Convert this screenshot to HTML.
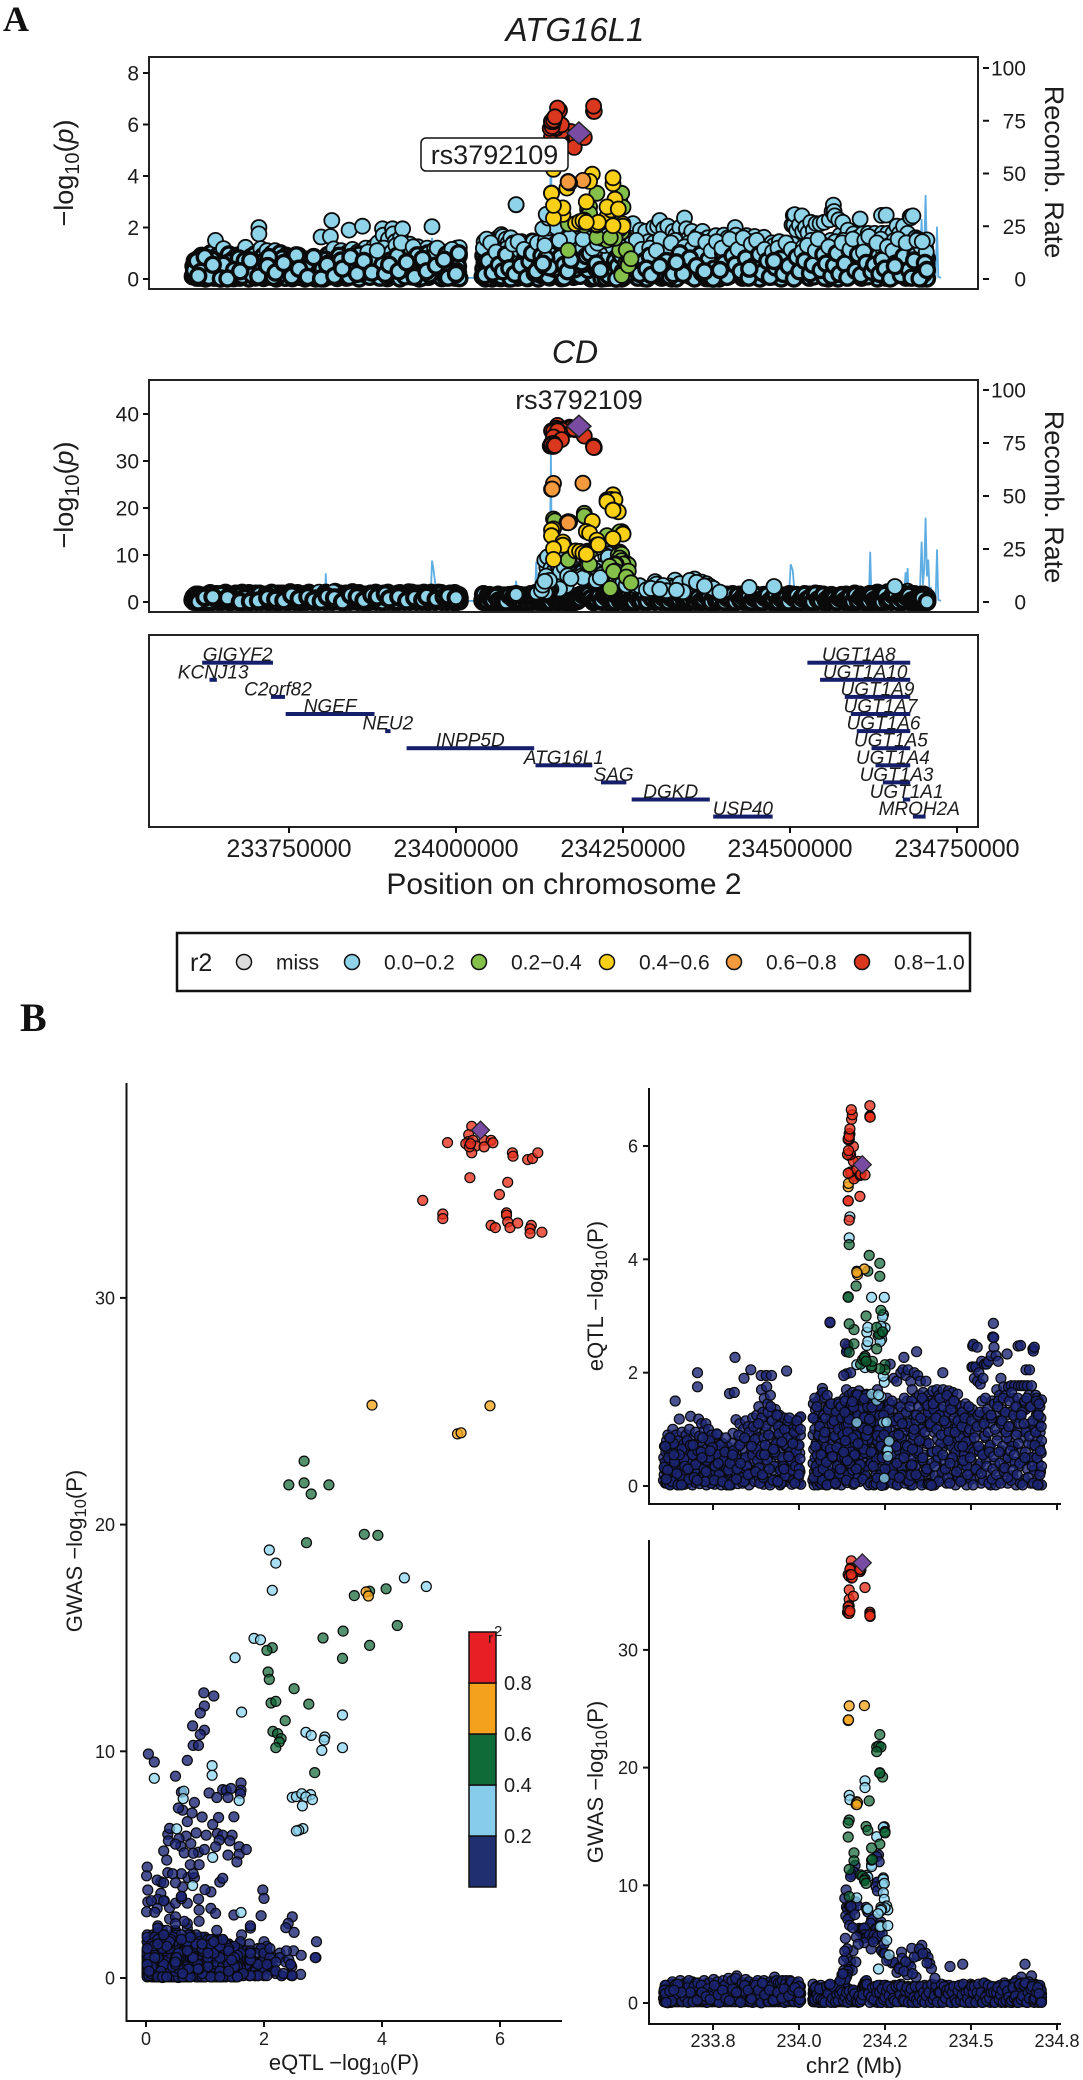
<!DOCTYPE html>
<html lang="en">
<head>
<meta charset="utf-8">
<title>ATG16L1 eQTL and CD GWAS colocalisation</title>
<style>
html,body{margin:0;padding:0;background:#fff}
svg{display:block}
text{font-family:"Liberation Sans",sans-serif;fill:#1c1c1c}
.serif{font-family:"Liberation Serif",serif;font-weight:bold;fill:#111}
</style>
</head>
<body>
<svg id="figure" xmlns="http://www.w3.org/2000/svg" width="1083" height="2080" viewBox="0 0 1083 2080">
<rect width="1083" height="2080" fill="#fff"/>
<text class="serif" x="3" y="31" font-size="36">A</text>
<text class="serif" x="20" y="1031" font-size="40">B</text>

<g>
<text x="575" y="41" font-size="33" font-style="italic" text-anchor="middle">ATG16L1</text>
<g id="recomb-a1"></g>
<g id="points-a1"></g>
<rect x="149" y="57" width="829" height="232" fill="none" stroke="#222" stroke-width="2"/>
<g id="axes-a1"></g>
<rect x="421" y="138" width="147" height="33" rx="5" fill="#fff" stroke="#111" stroke-width="1.5"/>
<text x="494.5" y="164" font-size="27" text-anchor="middle">rs3792109</text>
<text transform="translate(73,173) rotate(-90)" font-size="27" text-anchor="middle">−log<tspan font-size="20" dy="6">10</tspan><tspan dy="-6">(</tspan><tspan font-style="italic">p</tspan>)</text>
<text transform="translate(1045,172) rotate(90)" font-size="27" text-anchor="middle">Recomb. Rate</text>
</g>

<g>
<text x="575" y="363" font-size="32" font-style="italic" text-anchor="middle">CD</text>
<g id="recomb-a2"></g>
<g id="points-a2"></g>
<rect x="149" y="380" width="829" height="232" fill="none" stroke="#222" stroke-width="2"/>
<g id="axes-a2"></g>
<text x="579" y="409" font-size="27" text-anchor="middle">rs3792109</text>
<text transform="translate(73,495) rotate(-90)" font-size="27" text-anchor="middle">−log<tspan font-size="20" dy="6">10</tspan><tspan dy="-6">(</tspan><tspan font-style="italic">p</tspan>)</text>
<text transform="translate(1045,497) rotate(90)" font-size="27" text-anchor="middle">Recomb. Rate</text>
</g>

<g>
<rect x="149" y="635" width="829" height="192" fill="none" stroke="#222" stroke-width="2"/>
<g id="genes"></g>
<g id="axes-genes"></g>
<text x="564" y="894" font-size="30" text-anchor="middle">Position on chromosome 2</text>
</g>

<g>
<rect x="177" y="933" width="793" height="58" fill="#fff" stroke="#111" stroke-width="2.5"/>
<text x="190" y="971" font-size="25">r2</text>
<g id="legend-items"></g>
</g>

<g>
<g id="points-s"></g>
<g id="axes-s"></g>
<text transform="translate(82,1551) rotate(-90)" font-size="22" text-anchor="middle">GWAS −log<tspan font-size="16.5" dy="4">10</tspan><tspan dy="-4">(P)</tspan></text>
<text x="344" y="2070" font-size="22" text-anchor="middle">eQTL −log<tspan font-size="16.5" dy="4">10</tspan><tspan dy="-4">(P)</tspan></text>
<g id="colorbar"></g>
<text x="488" y="1643" font-size="15">r</text>
<text x="494" y="1636" font-size="15">2</text>
</g>

<g>
<g id="points-e"></g>
<g id="axes-e"></g>
<text transform="translate(603,1296) rotate(-90)" font-size="22" text-anchor="middle">eQTL −log<tspan font-size="16.5" dy="4">10</tspan><tspan dy="-4">(P)</tspan></text>
</g>

<g>
<g id="points-g"></g>
<g id="axes-g"></g>
<text transform="translate(603,1782) rotate(-90)" font-size="22" text-anchor="middle">GWAS −log<tspan font-size="16.5" dy="4">10</tspan><tspan dy="-4">(P)</tspan></text>
<text x="854" y="2073" font-size="22.5" text-anchor="middle">chr2 (Mb)</text>
</g>
</svg>

<script>
// SNP tables: [position (kb above 233,000), eQTL -log10 P, GWAS -log10 P]
const leadSnp=[1184,5.67,37.4];
const snpsRed=[[1143,5.03,33.7],[1143,5.03,33.5],[1146,4.69,34.3],[1152,5.52,37.57],[1170,5.47,37.2],[1165,5.47,36.9],[1160,5.42,36.8],[1150,5.54,36.95],[1168,5.59,36.7],[1143,5.52,36.4],[1172,5.73,36.95],[1158,5.73,36.66],[1150,5.85,36.95],[1148,5.88,36.84],[1178,5.48,36.66],[1180,5.5,36.8],[1177,5.11,36.85],[1148,6.21,36.4],[1146,6.22,36.25],[1153,6.47,36.1],[1155,6.55,36.15],[1152,6.64,36.4],[1192,5.49,35.3],[1146,6.13,35.1],[1158,5.99,34.56],[1141,5.85,33.2],[1144,5.92,33.1],[1146,6.11,33.75],[1143,6.11,33.65],[1143,6.13,33.35],[1146,6.17,33.1],[1148,6.3,33.3],[1206,6.53,33.2],[1206,6.51,33.05],[1207,6.51,32.85],[1206,6.71,32.9]];
const snpsOrange=[[1190,3.83,25.27],[1146,5.83,25.24],[1143,5.28,24.0],[1144,5.34,24.05],[1170,3.73,17.03],[1168,3.77,16.85]];
const snpsGreen=[[1235,2.68,22.8],[1226,2.42,21.75],[1232,2.68,21.84],[1238,3.1,21.75],[1226,2.8,21.35],[1243,2.72,19.2],[1235,3.7,19.57],[1235,3.93,19.53],[1166,3.53,16.87],[1168,3.79,17.06],[1204,4.07,17.17],[1146,4.26,15.55],[1143,3.34,15.3],[1195,3.0,15.0],[1200,3.79,14.67],[1143,3.33,14.1],[1250,2.14,14.57],[1250,2.05,14.45],[1235,2.07,13.5],[1211,2.09,13.17],[1160,2.51,12.76],[1211,2.12,12.13],[1213,2.2,12.2],[1160,2.76,12.08],[1146,2.36,11.35],[1179,2.15,10.88],[1185,2.23,10.78],[1192,2.29,10.56],[1190,2.26,10.41],[1195,2.2,10.16],[1146,2.86,9.06]];
const snpsSky=[[1192,2.09,18.88],[1192,2.2,18.3],[1168,2.14,17.1],[1146,4.38,17.65],[1148,4.75,17.27],[1248,1.83,14.98],[1245,1.94,14.92],[1226,1.51,14.13],[1211,1.62,11.73],[1211,3.33,11.6],[1197,2.71,10.84],[1200,2.8,10.7],[1245,3.03,10.63],[1245,3.02,10.5],[1243,2.98,10.04],[1248,3.33,10.16],[1245,1.12,9.37],[1168,1.12,8.94],[1248,.14,8.81],[1255,.64,8.24],[1258,.63,7.91],[1238,1.58,7.83],[1197,2.48,7.97],[1200,2.55,8.0],[1238,2.64,8.13],[1250,2.79,8.09],[1240,2.71,7.99],[1238,2.82,7.87],[1230,2.65,7.59],[1238,2.66,6.59],[1240,2.59,6.52],[1236,2.55,6.49],[1258,.52,6.58],[1255,1.13,5.32],[1262,.79,4.08],[1231,1.61,2.89]];
const snpsNavyPeak=[[1231,.98,12.58],[1226,1.15,12.44],[1233,.99,12.0],[1163,.92,11.69],[1160,.79,11.12],[1153,.99,10.93],[1150,.92,10.74],[1228,.8,10.26],[1228,.89,10.26],[1224,.04,9.88],[1228,.14,9.53],[1138,1.07,8.16],[1141,1.2,7.96],[1145,1.3,8.31],[1148,1.36,8.28],[1152,1.44,8.36],[1158,1.39,7.96],[1165,1.61,8.6],[1170,1.61,8.28],[1195,1.6,8.13],[1200,.82,7.74],[1136,.62,7.4],[1148,.78,7.28],[1211,1.23,7.08],[1214,1.49,7.11],[1208,1.13,6.77],[1175,.37,6.34],[1178,.38,6.05],[1180,.68,6.26],[1182,.56,6.15],[1185,.76,5.93],[1187,1.02,6.3],[1190,1.21,6.37],[1222,1.3,6.3],[1226,1.46,6.3],[1230,1.42,6.05],[1235,1.24,6.08],[1192,.59,5.81],[1188,.65,5.52],[1195,.89,5.55],[1200,.99,5.67],[1205,1.18,5.79],[1212,1.39,5.42],[1218,1.58,5.79],[1224,1.58,5.46],[1228,1.7,5.67],[1190,1.54,5.12],[1357,.02,4.89],[1240,.01,4.51],[1328,.37,4.65],[1368,.25,4.24],[1298,.19,4.32],[1157,.71,4.43],[1240,.82,4.43],[1345,.62,4.02],[1246,1.25,4.23],[1138,1.98,3.88],[1150,2.0,3.51],[1165,.89,3.48],[1375,.03,3.88],[1380,.03,3.36],[1262,.25,3.73],[1270,.31,3.41],[1275,.2,3.47],[1320,.09,3.41],[1385,.01,2.92],[1325,.19,3.07],[1143,1.1,3.07],[1146,1.18,2.85],[1155,1.49,2.78],[1130,1.95,2.75],[1142,2.48,2.7],[1140,2.41,2.41],[1138,2.37,2.22],[1135,2.51,2.01],[1090,2.89,1.6],[1439,.4,3.1],[1476,.7,3.3],[1657,.5,3.3],[1290,.9,3.0],[1300,1.1,3.8],[1310,.6,3.5],[1335,1.0,3.9],[1350,.8,4.6],[1360,.5,4.2],[1372,.3,3.4],[1285,.4,2.6],[1315,.7,2.4],[1340,.2,2.2],[1292,.15,2.9],[1305,.5,2.7],[1330,.65,2.5],[1395,.35,2.1],[1125,.5,2.4],[1120,.3,1.9],[1128,.9,2.5],[1133,.5,8.9],[1137,.7,9.6],[1142,.95,7.1],[1147,.4,6.6],[1151,.6,8.2],[1156,.85,6.4],[1162,.55,7.5],[1167,.3,5.6],[1172,.75,5.0],[1210,.6,4.6],[1216,.35,5.2],[1238,.7,6.9],[1242,.5,5.9],[1247,.9,5.0],[1250,.3,4.2],[1255,.6,3.6],[1135,.8,5.5],[1140,.45,4.6],[1130,.6,3.6],[1133,1.3,4.4]];
const snpsNavyWest=[[606,.1,.4],[607,.5,.9],[608,.2,.1],[609,.7,1.2],[610,.3,.6],[612,.05,.2],[613,.6,.2],[614,.35,1.5],[615,.8,.7],[617,.15,.9],[618,.45,.1],[619,.9,.4],[620,.1,1.3],[622,.6,.6],[623,.25,.2],[625,.75,1.0],[626,.03,.5],[627,.4,1.1],[629,.85,.1],[630,.2,.7],[631,.55,1.6],[633,1.0,.3],[634,.1,.9],[636,.3,.1],[637,.7,.5],[638,.05,1.2],[640,1.5,.8],[641,.45,.3],[643,.9,1.1],[644,.15,.1],[646,.6,.7],[647,.02,.4],[649,.35,1.3],[650,.8,.1],[652,1.18,.6],[653,.25,1.0],[654,.5,.2],[656,.08,.8],[657,.7,1.4],[659,.3,.1],[660,.95,.5],[662,.12,.3],[663,.55,1.1],[664,.4,.1],[666,.75,.7],[667,.03,1.0],[669,.2,.2],[670,.62,.6],[672,.9,1.3],[673,.15,.1],[675,.48,.9],[676,.05,.4],[678,.78,.2],[679,.33,1.5],[681,1.0,.7],[682,.1,.1],[684,.58,1.0],[685,1.23,.3],[687,.22,.8],[688,.7,.1],[690,.02,.5],[691,.42,1.2],[693,.85,.4],[694,.18,.1],[696,.65,.9],[697,.3,1.6],[699,.95,.2],[700,.06,.6],[702,.5,.1],[703,.75,1.1],[705,2.0,1.0],[705,1.75,1.5],[706,.25,.3],[708,1.18,.8],[709,.4,.1],[711,.88,.5],[712,.04,1.3],[714,.6,.2],[715,.15,.8],[717,1.1,.1],[718,.35,1.0],[720,.72,.4],[722,.09,.1],[723,.52,1.4],[725,.98,.6],[726,.2,.2],[728,.44,1.1],[729,1.1,.1],[731,.02,.7],[732,.66,.3],[734,.28,1.7],[735,.82,.9],[737,1.0,.1],[738,.12,.5],[740,.56,1.2],[741,.38,.2],[743,.76,.7],[745,.05,.1],[746,.9,1.0],[748,.22,.4],[750,.6,.1],[751,.47,1.5],[753,.8,.6],[755,.03,.2],[757,.32,.9],[759,.7,.1],[760,.15,1.2],[762,.54,.4],[764,.9,.7],[766,.08,.1],[768,.42,1.1],[770,.64,.3],[772,.26,.8],[774,.02,1.6],[776,.5,.1],[778,.75,.5],[780,.18,1.0],[782,.36,.2],[784,.6,.7],[786,.06,.1],[788,.46,1.3],[790,.3,.4],[792,.7,.9],[794,.12,.1],[796,.52,.6],[798,1.63,1.2],[800,.24,.2],[802,.02,1.0],[804,.6,.1],[806,.34,.8],[808,.93,1.5],[810,.1,.3],[812,1.65,.7],[814,2.27,1.1],[815,.42,.1],[817,1.17,.5],[819,.2,2.3],[820,.56,1.0],[822,.04,.2],[824,.7,.7],[826,.3,1.7],[828,1.1,.1],[830,.14,.4],[832,.8,1.2],[834,.46,.1],[836,.05,.8],[838,1.0,.3],[840,1.9,1.3],[841,.26,.1],[843,.62,.6],[845,1.15,1.0],[847,.1,.2],[849,.8,1.6],[851,.36,.5],[853,1.05,.1],[855,.02,.9],[857,.55,.3],[860,2.05,1.2],[861,.7,.1],[863,.2,.7],[865,1.2,1.5],[867,.44,.2],[869,.9,.9],[871,.08,.1],[873,1.0,.5],[875,.6,1.3],[877,1.25,.2],[879,.3,.8],[881,.85,.1],[883,1.4,1.0],[885,.12,.4],[887,1.1,1.6],[889,.5,.1],[890,1.95,.7],[891,1.7,1.1],[893,.72,.2],[895,1.3,.5],[897,.03,1.4],[899,1.55,.1],[901,.4,.8],[903,.95,.3],[905,1.95,1.2],[906,1.75,.1],[907,.2,.6],[909,1.45,1.0],[911,.65,.2],[913,1.15,1.7],[915,.06,.1],[917,1.6,.5],[919,.5,1.1],[920,1.95,.3],[921,.85,.8],[923,1.3,.1],[925,.28,1.3],[927,1.0,.4],[929,.7,2.2],[931,1.35,.1],[933,.1,.7],[935,.55,1.1],[937,1.1,.2],[939,.35,.9],[941,.8,.1],[943,1.25,1.5],[945,.02,.4],[947,.62,1.0],[949,1.0,.1],[951,.25,.6],[953,.9,1.8],[955,.46,.2],[957,1.2,.8],[959,.08,.1],[961,.7,1.2],[964,2.03,.5],[965,.32,.2],[967,.98,1.6],[969,.55,.1],[971,.15,.7],[973,1.1,1.0],[975,.4,.3],[977,.85,1.4],[979,.03,.1],[981,.68,.8],[983,.22,.2],[985,1.05,1.1],[987,.5,.1],[989,.8,.6],[991,.12,1.7],[993,.95,.3],[995,.38,.1],[997,.7,.9],[999,.05,.4],[1001,1.2,.1],[1002,.58,1.1],[1003,.25,.6],[1004,.9,1.4],[1005,1.22,.2],[1005,.03,.8]];
const snpsNavyEast=[[1040,.1,.3],[1041,.9,.8],[1041,.4,.1],[1042,1.45,1.1],[1043,.65,.5],[1044,.02,.9],[1044,1.2,.2],[1045,.25,1.3],[1046,1.0,.1],[1047,.5,.6],[1048,1.35,1.0],[1049,.08,.3],[1050,.75,.1],[1051,.3,.8],[1052,1.15,.4],[1053,.55,1.2],[1054,.02,.1],[1055,1.5,.6],[1056,.88,.2],[1057,.18,1.0],[1058,1.3,.1],[1059,.42,.5],[1060,.98,1.3],[1061,.06,.2],[1062,.7,.8],[1063,1.6,.1],[1064,.3,1.1],[1065,1.1,.4],[1066,.52,.1],[1067,.03,.7],[1068,1.72,.5],[1069,.8,1.0],[1070,1.65,.2],[1071,.22,.9],[1072,1.25,.1],[1073,.6,.5],[1074,.12,1.3],[1075,1.55,.3],[1076,.92,.1],[1077,.38,.7],[1078,1.4,1.1],[1079,.02,.2],[1080,.7,.6],[1082,1.6,.1],[1083,.26,1.0],[1084,1.05,.4],[1086,.48,.1],[1087,.1,.8],[1088,1.3,1.2],[1090,2.88,.9],[1090,.85,.2],[1092,.05,.5],[1093,.6,1.1],[1095,1.15,.1],[1096,.32,.7],[1098,1.45,.3],[1099,.75,1.0],[1101,.16,.1],[1102,1.0,.6],[1104,.5,1.3],[1105,1.35,.2],[1107,.03,.8],[1108,.85,.1],[1110,.28,1.1],[1111,1.2,.4],[1113,.6,1.6],[1114,1.48,.1],[1116,.1,.7],[1117,.95,1.2],[1119,.4,.3],[1120,1.3,1.7],[1122,.7,.1],[1123,.02,.9],[1125,1.1,.5],[1126,.5,1.4],[1128,1.4,.2],[1129,.2,2.0],[1131,.85,.8],[1132,1.55,.1],[1134,.32,1.3],[1135,1.05,.4],[1137,.62,.1],[1138,1.7,1.0],[1140,.06,.5],[1141,1.25,.1],[1143,.45,.8],[1144,.95,1.2],[1146,1.6,.2],[1147,.15,.6],[1149,.78,1.0],[1150,1.35,.1],[1152,.3,.4],[1153,1.15,.9],[1155,.55,.1],[1156,1.65,.6],[1158,.03,.3],[1159,.88,1.0],[1161,1.45,.1],[1162,.42,.5],[1164,1.1,.2],[1165,.68,.8],[1167,1.58,.1],[1168,.2,.4],[1170,1.25,.9],[1171,.9,.1],[1173,.5,.5],[1174,1.68,.2],[1176,.08,.7],[1177,1.05,.1],[1179,.72,.4],[1180,1.5,1.0],[1182,.3,1.2],[1184,1.2,1.3],[1186,.85,1.4],[1187,1.6,1.5],[1189,.46,1.6],[1190,1.35,1.2],[1192,1.0,1.8],[1194,.15,1.4],[1196,1.62,1.9],[1198,.62,1.3],[1199,1.3,1.6],[1201,.9,1.1],[1202,.02,1.2],[1204,1.45,.9],[1206,.38,1.4],[1208,1.1,.7],[1209,.75,1.1],[1211,1.55,.4],[1213,.52,.9],[1214,1.25,.2],[1216,.1,.7],[1218,.95,1.3],[1219,1.4,.1],[1221,.3,.5],[1223,.8,1.0],[1224,1.6,.3],[1226,.58,.1],[1228,1.15,.8],[1229,.05,1.2],[1231,1.0,.2],[1233,1.5,.6],[1234,.42,.1],[1236,.7,1.0],[1238,1.3,.4],[1240,.18,.8],[1241,.9,.1],[1243,1.45,1.4],[1245,.6,.2],[1247,1.05,.6],[1248,.02,1.0],[1250,1.3,.1],[1252,.5,1.5],[1254,.85,.3],[1256,1.55,.8],[1257,.25,.1],[1259,1.1,1.1],[1261,.68,.5],[1263,1.45,.1],[1265,2.15,.9],[1266,.4,1.3],[1268,1.0,.2],[1270,.1,.7],[1272,1.3,.1],[1274,.78,1.1],[1276,1.9,.4],[1278,.55,1.5],[1280,1.2,.1],[1282,.03,.8],[1284,1.85,.3],[1286,.92,1.2],[1288,1.45,.1],[1290,.35,.6],[1292,1.15,1.0],[1294,.7,.2],[1296,2.0,1.6],[1298,.15,.1],[1300,1.3,.7],[1302,2.05,1.1],[1304,.5,.3],[1305,2.27,.9],[1307,1.05,.1],[1309,.82,1.3],[1311,1.95,.5],[1313,.28,.1],[1315,1.5,.8],[1317,2.05,1.4],[1319,.62,.2],[1321,1.15,.6],[1323,.02,1.0],[1325,1.85,.1],[1327,.95,.5],[1329,1.7,1.2],[1331,.4,.2],[1333,1.25,.8],[1335,2.0,.1],[1337,.72,1.1],[1339,1.55,.4],[1342,2.37,.7],[1343,.18,.1],[1345,1.95,1.3],[1347,1.05,.3],[1349,1.6,.1],[1351,.5,.8],[1353,1.85,1.1],[1355,.85,.2],[1357,1.3,.6],[1359,.06,.1],[1361,1.65,1.0],[1363,1.15,.4],[1365,.38,1.5],[1367,1.45,.1],[1369,1.85,.7],[1371,.75,.2],[1373,1.2,1.1],[1375,1.05,.1],[1377,1.6,.5],[1379,.22,.9],[1381,1.3,.2],[1383,1.5,1.3],[1385,.6,.1],[1387,1.1,.6],[1389,1.68,1.0],[1391,.03,.3],[1393,.95,.1],[1395,1.3,.8],[1397,1.5,.2],[1399,.45,1.2],[1401,1.7,.5],[1403,.82,.1],[1405,1.2,.9],[1407,1.6,.3],[1409,.12,1.4],[1411,1.05,.1],[1413,1.35,.7],[1415,.65,.2],[1418,2.0,1.1],[1419,1.7,.5],[1421,.3,.1],[1423,1.25,.9],[1425,.9,1.5],[1427,1.55,.2],[1429,.05,.7],[1431,.75,.1],[1433,1.3,1.1],[1435,1.68,.4],[1437,.48,.1],[1439,1.1,.8],[1441,.85,1.3],[1443,1.5,.2],[1445,.2,.6],[1447,1.65,.1],[1449,1.0,1.0],[1451,.62,.4],[1453,1.3,.1],[1455,.02,.8],[1457,1.45,1.2],[1459,.78,.2],[1461,1.62,.6],[1463,.35,.1],[1465,1.15,1.1],[1467,1.25,.3],[1469,.55,.8],[1471,1.0,.1],[1473,1.4,1.5],[1475,.1,.4],[1477,.88,.1],[1479,1.2,.9],[1481,.42,.2],[1483,.7,.6],[1485,1.1,1.2],[1487,.02,.1],[1489,1.25,.7],[1491,.58,.3],[1493,.95,1.0],[1495,.25,.1],[1497,1.3,.5],[1499,.8,1.6],[1501,.45,.2],[1503,2.1,.9],[1505,2.47,.1],[1506,2.1,.6],[1507,2.5,1.2],[1508,1.1,.3],[1510,1.9,.1],[1512,.15,.8],[1514,2.1,1.3],[1516,.7,.2],[1518,2.45,.6],[1519,1.85,.1],[1521,.35,1.0],[1523,2.0,.4],[1525,1.2,.1],[1527,1.8,.8],[1529,.05,1.5],[1531,2.2,.2],[1533,1.05,.7],[1535,1.9,.1],[1537,.55,1.1],[1539,2.15,.3],[1541,1.3,.1],[1543,.85,.9],[1545,2.15,.5],[1547,.22,1.3],[1549,1.2,.1],[1551,2.2,.7],[1553,.68,.2],[1555,1.1,1.2],[1557,.02,.4],[1559,2.3,.1],[1561,1.5,.8],[1563,2.63,1.0],[1565,2.87,.9],[1566,2.62,.16],[1567,2.45,.13],[1569,.4,1.1],[1571,1.25,.2],[1573,2.3,.1],[1575,1.7,.6],[1577,.9,1.4],[1579,2.2,.3],[1581,.1,.1],[1583,1.6,.9],[1585,1.15,.2],[1587,1.9,.6],[1589,.62,1.2],[1591,1.35,.1],[1593,.3,.4],[1595,1.75,.8],[1597,1.0,1.7],[1599,.5,.1],[1601,1.6,.5],[1603,1.25,1.0],[1605,2.33,.2],[1607,.05,.7],[1609,1.75,.1],[1611,.8,1.2],[1613,1.3,.4],[1615,.42,.1],[1617,1.77,.9],[1619,1.05,1.6],[1621,.18,.2],[1623,1.55,.6],[1625,.7,1.1],[1627,1.77,.1],[1629,1.2,.4],[1631,.02,1.9],[1633,1.4,.8],[1635,.95,.1],[1637,2.47,.5],[1638,1.77,1.2],[1640,.35,.2],[1642,1.2,.7],[1644,2.48,.1],[1646,1.77,2.2],[1648,.6,1.0],[1650,1.45,.3],[1652,.85,.1],[1654,1.77,.8],[1656,.12,1.3],[1658,1.35,.2],[1660,2.05,.6],[1662,.98,.1],[1664,1.77,1.1],[1666,.48,.4],[1668,1.6,1.6],[1670,2.05,.1],[1672,1.1,.9],[1674,.05,.3],[1676,1.77,2.3],[1678,.72,.1],[1680,2.42,.8],[1681,2.38,1.2],[1682,1.45,.2],[1684,2.45,.6],[1685,1.0,.1],[1686,.28,1.6],[1688,1.6,.4],[1689,.55,1.0],[1690,1.25,.1],[1691,1.55,.7],[1692,.1,1.3],[1693,.85,.2],[1694,1.3,.9],[1695,.4,.1],[1696,1.5,.5],[1697,1.1,1.5],[1698,.02,.3],[1699,.7,1.0],[1700,1.4,.1],[1701,.95,.7],[1702,.25,1.2],[1703,1.2,.4],[1704,.58,.1],[1705,.8,.8],[1705,1.52,.2],[1705,.02,.5]];
const snpsNavyDenseWest=[[632,.3,1.8],[611,.42,1.5],[655,.18,1.9],[628,.62,.05],[670,.28,1.7],[616,.05,1.1],[642,.68,1.6],[690,.55,1.8],[608,.33,1.1],[665,.48,1.5],[635,.75,.25],[680,.12,1.9],[621,.5,.3],[700,.38,1.7],[645,.22,.5],[612,.7,.8],[660,.65,.12],[625,.02,.1],[675,.8,1.3],[638,.42,.7],[695,.15,1.4],[618,.28,.02],[652,.55,1.4],[706,.62,1.7],[630,.08,.15],[668,.35,.5],[684,.72,.9],[648,.02,1.6],[724,.3,1.9],[740,.8,1.7],[716,.6,1.5],[752,.2,2.0],[732,.45,.05],[763,.55,1.8],[744,.05,.8],[720,.85,.2],[756,.35,.3],[771,.72,1.3],[735,.15,1.2],[748,.68,.9],[727,.08,.3],[780,.45,1.9],[761,.92,.15],[739,.5,.6],[775,.1,.5],[785,.6,1.5],[795,.28,2.1],[768,.2,.05],[805,.75,1.9],[790,.02,.7],[816,.5,2.1],[800,.4,.6],[825,.9,.9],[810,.62,.12],[835,.15,1.7],[820,.3,.3],[845,.5,2.0],[828,.72,.9],[855,.95,1.8],[840,.08,1.0],[865,.55,.05],[848,.35,1.4],[872,.82,1.7],[858,.22,.15],[880,.45,1.9],[868,1.05,.6],[886,.05,.2],[876,.65,.9],[892,1.2,1.7],[884,.32,.6],[898,.85,1.9],[890,.55,.02],[904,1.05,1.2],[896,.15,1.0],[910,1.3,.15],[902,.72,1.5],[916,.02,1.8],[908,.45,.4],[922,1.15,.6],[912,.9,.12],[928,.35,1.8],[918,1.4,1.4],[934,.75,1.9],[924,.1,.2],[940,1.05,1.7],[930,.6,.6],[946,.28,1.7],[936,1.25,.3],[952,.5,1.9],[942,.92,.9],[958,1.0,.05],[948,.05,1.2],[963,.72,1.9],[954,.35,.5],[968,1.15,.4],[960,.18,1.6],[974,.6,1.9],[966,.85,.2],[980,.28,.3],[972,1.2,1.5],[986,.95,.12],[978,.45,1.8],[992,.6,1.5],[984,.1,.6],[996,1.05,.7],[990,.35,1.0],[1000,.72,.05],[994,1.15,1.3],[1003,.48,.3],[998,.15,1.8],[1004,1.0,.9],[1001,.3,1.4],[614,.12,.05],[624,.85,1.0],[658,.02,.9],[636,.55,1.1],[677,.3,.05],[692,.72,.1],[704,.1,.25],[718,.5,.9],[730,.25,.55],[742,.62,.3],[754,.1,1.5],[765,.4,.7],[778,.08,1.1],[787,.85,.4],[798,.02,.2],[807,.55,1.2],[818,.12,.9],[830,.4,.05],[842,.85,1.5],[852,.2,1.1],[862,.7,.35],[874,.25,1.5],[882,1.1,1.1],[894,.2,1.7],[900,.55,.7],[914,.3,1.1],[926,.65,.25],[938,.08,.9],[950,.78,.4],[956,.3,1.2],[970,.52,.6],[982,.75,1.1],[988,.05,1.3],[1000,.2,.9]];
const snpsNavyDenseEast=[[1041,1.2,1.6],[1050,.35,1.4],[1043,.15,.15],[1058,.9,.05],[1046,1.55,.3],[1063,.45,1.5],[1048,.7,1.3],[1068,.1,.05],[1052,1.4,.7],[1072,.85,1.3],[1055,.25,.4],[1077,1.2,.5],[1060,1.05,1.2],[1082,.02,1.2],[1064,.55,.3],[1086,1.4,1.5],[1070,.3,.2],[1091,.65,.9],[1075,.95,.05],[1096,1.1,1.4],[1080,.42,1.4],[1100,.15,.3],[1085,1.35,.8],[1104,.88,.05],[1088,.2,1.5],[1108,1.3,.5],[1093,1.45,.05],[1112,.35,1.6],[1097,.52,.4],[1116,1.45,.9],[1102,1.15,1.3],[1120,.75,.4],[1106,.05,.1],[1124,1.2,2.1],[1110,.68,.7],[1128,.15,.1],[1114,1.0,.2],[1132,1.05,1.7],[1118,.22,.8],[1136,.4,.1],[1122,1.4,1.1],[1140,1.3,.8],[1126,.55,.9],[1144,.2,.3],[1130,.9,.2],[1148,.62,.9],[1134,1.5,.5],[1152,1.2,.1],[1138,.1,.9],[1156,.28,.9],[1142,.72,.05],[1160,1.5,.6],[1146,.98,1.0],[1164,.35,.1],[1150,.48,.3],[1168,1.05,.5],[1154,1.4,.5],[1172,.15,.05],[1158,.7,1.1],[1176,1.35,.4],[1162,.05,.8],[1180,.6,.4],[1166,1.25,.2],[1184,.3,1.2],[1170,.5,.1],[1188,1.1,1.4],[1174,.95,.6],[1192,.2,1.3],[1178,.32,.1],[1196,.75,1.5],[1182,1.55,.3],[1200,1.4,1.2],[1186,.12,.7],[1204,.55,.9],[1190,.68,1.5],[1208,.05,.4],[1194,1.2,1.6],[1212,.95,1.3],[1198,.35,1.6],[1216,1.35,.7],[1202,1.1,.8],[1220,.6,.3],[1206,.85,.05],[1224,.2,1.1],[1210,.4,.5],[1228,1.5,.05],[1214,1.55,1.3],[1232,.75,.4],[1218,.02,.3],[1236,.3,1.5],[1222,1.25,1.4],[1240,1.1,.05],[1226,.48,.9],[1244,.55,.7],[1230,.9,1.5],[1248,.95,1.5],[1234,1.4,.9],[1252,.12,.2],[1238,.2,.05],[1256,.85,.05],[1242,.65,1.2],[1260,.35,.9],[1246,1.3,.3],[1264,1.2,1.4],[1250,.05,.5],[1268,.55,.05],[1254,1.0,1.0],[1272,.05,.3],[1258,.45,1.4],[1276,.88,.8],[1262,1.35,.6],[1280,.4,1.1],[1266,.75,.05],[1284,1.1,.9],[1270,1.5,1.2],[1288,.15,1.2],[1274,.22,.4],[1292,.62,.3],[1278,1.15,.2],[1296,1.4,.7],[1282,.7,1.4],[1300,.32,1.2],[1286,.02,.1],[1304,.95,.6],[1290,1.2,1.5],[1308,.05,.9],[1294,.48,.7],[1312,1.3,1.3],[1298,.85,1.4],[1316,.6,.1],[1302,.2,.3],[1320,1.05,1.1],[1306,1.55,.2],[1324,.35,.5],[1310,.72,1.0],[1328,1.5,.1],[1314,.1,1.3],[1332,.8,1.4],[1318,1.1,.05],[1336,.25,.3],[1322,1.4,.9],[1340,1.15,.05],[1326,.5,1.2],[1344,.58,.9],[1330,.02,.05],[1348,1.4,1.0],[1334,.9,.5],[1352,.1,.1],[1338,.35,1.4],[1356,1.0,1.2],[1342,1.25,.3],[1360,.45,.4],[1346,.68,.05],[1364,1.5,.7],[1350,.15,.6],[1368,.8,.1],[1354,1.2,1.4],[1372,.28,1.3],[1358,1.55,.2],[1376,1.3,.5],[1362,.55,.9],[1380,.05,.1],[1366,.95,.05],[1384,1.05,1.1],[1370,.3,.6],[1388,.6,.05],[1374,1.42,1.4],[1392,1.35,.7],[1378,.75,.9],[1396,.18,1.0],[1382,1.1,.05],[1400,1.0,.3],[1386,.4,1.6],[1404,.5,1.5],[1390,1.45,.3],[1408,1.25,.05],[1394,.02,.6],[1412,.75,1.1],[1398,1.2,1.5],[1416,.25,.3],[1402,.62,.05],[1420,1.4,1.2],[1406,.08,.9],[1424,.45,.4],[1410,1.55,.9],[1428,1.1,.9],[1414,.9,1.6],[1432,.15,.2],[1418,.55,.05],[1436,.95,1.5],[1422,1.15,1.4],[1440,1.45,.5],[1426,.3,.4],[1444,.7,.05],[1430,1.6,1.1],[1448,.4,1.4],[1434,.8,.8],[1452,1.2,.7],[1438,.05,1.2],[1456,.6,.05],[1442,1.35,.05],[1460,1.05,1.4],[1446,.5,.9],[1464,.15,.7],[1450,1.5,1.4],[1468,.85,.4],[1454,.95,.3],[1472,.3,1.3],[1458,.25,.05],[1476,1.3,.2],[1462,1.15,1.0],[1480,.55,1.1],[1466,.7,1.5],[1484,1.45,.4],[1470,.08,.2],[1488,.35,1.3],[1474,1.05,.7],[1492,.68,.05],[1478,.45,1.6],[1496,1.0,1.2],[1482,1.2,.05],[1500,.12,.6],[1486,.78,.9],[1504,1.35,1.5],[1490,.2,.4],[1508,.6,.05],[1494,1.4,1.0],[1512,.95,1.2],[1498,.5,.05],[1516,.28,.5],[1502,1.15,1.4],[1520,1.25,1.2],[1506,.02,.9],[1524,.62,.3],[1510,.85,1.4],[1528,.4,1.3],[1514,.3,.05],[1532,1.5,.05],[1518,1.05,.9],[1536,.1,.3],[1522,.7,1.6],[1540,.88,.6],[1526,1.3,.5],[1544,.48,1.6],[1530,.22,.9],[1548,1.35,.8],[1534,.55,.05],[1552,.05,.9],[1538,1.1,1.7],[1556,.72,.05],[1542,1.55,.5],[1560,1.2,1.3],[1546,.35,.2],[1564,.3,.6],[1550,.95,1.5],[1568,1.45,.05],[1554,.6,.4],[1572,.02,1.1],[1558,1.25,.9],[1576,.8,.9],[1562,.12,1.4],[1580,1.5,.4],[1566,.52,.9],[1584,.4,1.5],[1570,1.0,.05],[1588,1.1,.05],[1574,.2,.9],[1592,.7,1.2],[1578,1.4,1.3],[1596,.25,.3],[1582,.6,.3],[1600,1.3,.05],[1586,.05,.7],[1604,.85,1.5],[1590,1.15,1.1],[1608,.5,.3],[1594,1.55,.1],[1612,1.5,.9],[1598,.32,1.5],[1616,.1,.5],[1602,.95,.2],[1620,.7,.05],[1606,.15,1.0],[1624,1.25,1.4],[1610,1.05,.5],[1628,.42,1.7],[1614,.62,.05],[1632,.9,.4],[1618,1.65,.2],[1636,1.55,1.0],[1622,.28,1.3],[1640,1.1,1.5],[1626,.55,.4],[1644,.05,.9],[1630,1.4,.6],[1648,1.3,1.7],[1634,.2,.05],[1652,.45,.5],[1638,.75,.05],[1656,1.5,.5],[1642,.4,1.6],[1660,.95,1.3],[1646,1.25,.3],[1664,.3,.05],[1650,.02,.6],[1668,.75,1.8],[1654,1.1,1.5],[1672,1.4,.3],[1658,.6,1.7],[1676,.5,.6],[1662,1.55,.05],[1680,1.15,1.6],[1666,.15,.9],[1684,.28,.05],[1670,.88,.4],[1688,.95,1.5],[1674,1.4,1.2],[1692,.5,.7],[1678,.35,1.4],[1696,1.25,.05],[1682,.05,.3],[1700,.2,1.5],[1686,.72,.4],[1704,1.05,1.1],[1690,1.5,.9],[1702,.62,.2],[1694,.02,1.3],[1698,1.45,.8],[1705,.35,.05]];

// Recombination rate track
const recombPos=[596,804,805,806,808,962,964,966,970,973,1088,1090,1093,1118,1120,1123,1140,1142,1144,1498,1501,1504,1508,1618,1620,1622,1670,1673,1675,1676,1678,1694,1697,1699,1701,1703,1705,1707,1709,1711,1713,1718,1720,1722,1726];
const recombRate=[.5,.5,13.5,8,.5,.5,19.5,16,6,.5,.5,10,.5,.5,19,.5,.5,70,.5,.5,17.8,15,.5,.5,23.7,.5,.5,14,9,16,.5,.5,28.5,8,16,39.8,12,20,4,7,.5,.5,24.8,1,.5];

// Axes
const leftTicksA1=[0,2,4,6,8];
const leftTicksA2=[0,10,20,30,40];
const rateTicks=[0,25,50,75,100];
const xTicksKb=[750,1000,1250,1500,1750];
const xTickLabelsFull=['233750000','234000000','234250000','234500000','234750000'];
const xTickLabelsMb=['233.8','234.0','234.2','234.5','234.8'];
const scatterXTicks=[0,2,4,6];
const scatterYTicks=[0,10,20,30];
const eqtlYTicks=[0,2,4,6];
const gwasYTicks=[0,10,20,30];

// Genes
const geneNames=['GIGYF2','KCNJ13','C2orf82','NGEF','NEU2','INPP5D','ATG16L1','SAG','DGKD','USP40','UGT1A8','UGT1A10','UGT1A9','UGT1A7','UGT1A6','UGT1A5','UGT1A4','UGT1A3','UGT1A1','MROH2A'];
const geneStarts=[620,631,723,745,894,926,1119,1217,1263,1385,1526,1545,1582,1591,1600,1622,1628,1639,1669,1684];
const geneEnds=[726,642,744,878,902,1117,1204,1255,1380,1474,1680,1680,1680,1680,1680,1680,1680,1680,1680,1703];
const geneRows=[0,1,2,3,4,5,6,7,8,9,0,1,2,3,4,5,6,7,8,9];

// Legend & colourbar
const legendLabels=['miss','0.0−0.2','0.2−0.4','0.4−0.6','0.6−0.8','0.8−1.0'];
const colorbarBreaks=[0,.2,.4,.6,.8,1];
const colorbarTicks=[.2,.4,.6,.8];

// Palettes (styling only)
const fillsA=['#8ED3E8','#84BF4A','#FAD016','#F39A3E','#D9381E'];
const fillsB=['rgba(28,38,118,.8)','rgba(140,212,240,.75)','rgba(10,98,50,.7)','rgba(246,166,30,.8)','rgba(232,48,28,.78)'];
const legendFills=['#DCDCDC','#8ED3E8','#84BF4A','#FAD016','#F39A3E','#D9381E'];
const colorbarFills=['#1F2F6F','#87CCEB','#0F6B37','#F4A11D','#E81F24'];

const snpClasses=[snpsNavyWest.concat(snpsNavyEast,snpsNavyDenseWest,snpsNavyDenseEast,snpsNavyPeak),snpsSky,snpsGreen,snpsOrange,snpsRed];

// Axis functions
const xA=kb=>289+(kb-750)*0.668;
const xB=kb=>713+(kb-750)*0.344;
const yA1=v=>279-v*25.75;
const yA2=v=>602-v*4.7;
const yRateA1=v=>279-v*2.11;
const yRateA2=v=>602-v*2.12;
const xS=v=>146+v*59;
const yS=v=>1978-v*22.67;
const yE=v=>1486-v*56.67;
const yG=v=>2003-v*11.77;
const yCb=v=>1887-v*255;
const NS='http://www.w3.org/2000/svg';
const $=id=>document.getElementById(id);

function drawPoints(groupId,fx,fy,fills,r,swFor){
  const g=$(groupId);
  snpClasses.forEach((list,c)=>{
    list.forEach(s=>{
      const el=document.createElementNS(NS,'circle');
      el.setAttribute('cx',fx(s).toFixed(1));
      el.setAttribute('cy',fy(s).toFixed(1));
      el.setAttribute('r',r);
      el.setAttribute('fill',fills[c]);
      el.setAttribute('stroke','#0a0a0a');
      el.setAttribute('stroke-width',swFor(s,c));
      
      
      g.appendChild(el);
    });
  });
  const cx=fx(leadSnp),cy=fy(leadSnp);
  const hw=r>6?12:9,hh=r>6?11:9;
  const d=document.createElementNS(NS,'polygon');
  d.setAttribute('points',`${cx-hw},${cy} ${cx},${cy-hh} ${cx+hw},${cy} ${cx},${cy+hh}`);
  d.setAttribute('fill','#7A4BA3');
  d.setAttribute('stroke','#222');
  d.setAttribute('stroke-width',r>6?1.5:1.2);
  
  
  g.appendChild(d);
}

function drawRecomb(groupId,fy){
  const p=document.createElementNS(NS,'polyline');
  p.setAttribute('points',recombPos.map((k,i)=>xA(k).toFixed(1)+','+fy(recombRate[i]).toFixed(1)).join(' '));
  p.setAttribute('fill','none');
  p.setAttribute('stroke','#5DADE2');
  p.setAttribute('stroke-width','1.8');
  
  
  $(groupId).appendChild(p);
}

function line(g,x1,y1,x2,y2,sw,col){
  const el=document.createElementNS(NS,'line');
  el.setAttribute('x1',x1);el.setAttribute('y1',y1);el.setAttribute('x2',x2);el.setAttribute('y2',y2);
  el.setAttribute('stroke',col||'#111');el.setAttribute('stroke-width',sw);
  
  
  g.appendChild(el);
}
function label(g,x,y,str,size,anchor){
  const el=document.createElementNS(NS,'text');
  el.setAttribute('x',x);el.setAttribute('y',y);
  el.setAttribute('font-size',size);el.setAttribute('text-anchor',anchor);
  el.textContent=str;
  
  
  g.appendChild(el);
}

// Panel A axes
function axesA(id,leftTicks,fy,fRate){
  const g=$(id);
  leftTicks.forEach(t=>{line(g,143,fy(t),149,fy(t),2);label(g,139,fy(t)+7.5,String(t),21,'end');});
  rateTicks.forEach(t=>{line(g,983,fRate(t),989,fRate(t),2);label(g,1026,fRate(t)+7.5,String(t),21,'end');});
}
axesA('axes-a1',leftTicksA1,yA1,yRateA1);
axesA('axes-a2',leftTicksA2,yA2,yRateA2);
drawRecomb('recomb-a1',yRateA1);
drawRecomb('recomb-a2',yRateA2);
// dense low-signal points overplot to near-black in the original, so their outlines are heavier here
drawPoints('points-a1',s=>xA(s[0]),s=>yA1(s[1]),fillsA,7.5,(s,c)=>c===0&&s[1]<1.05?3.4:1.8);
drawPoints('points-a2',s=>xA(s[0]),s=>yA2(s[2]),fillsA,7.5,(s,c)=>c===0&&s[2]<2.1?4:1.8);

// Gene track
(function(){
  const g=$('genes');
  geneNames.forEach((n,i)=>{
    const y=662.7+geneRows[i]*17.1;
    const x1=xA(geneStarts[i]),x2=xA(geneEnds[i]);
    const r=document.createElementNS(NS,'rect');
    r.setAttribute('x',x1);r.setAttribute('y',y-2);r.setAttribute('width',x2-x1);r.setAttribute('height',4);
    r.setAttribute('fill','#141E6B');
    
    
    g.appendChild(r);
    const t=document.createElementNS(NS,'text');
    t.setAttribute('x',(x1+x2)/2);t.setAttribute('y',y-1.5);
    t.setAttribute('font-size',19);t.setAttribute('font-style','italic');t.setAttribute('text-anchor','middle');
    t.textContent=n;
    
    
    g.appendChild(t);
  });
  const a=$('axes-genes');
  xTicksKb.forEach((k,i)=>{line(a,xA(k),827,xA(k),833,2);label(a,xA(k),857,xTickLabelsFull[i],25,'middle');});
})();

// Legend
(function(){
  const g=$('legend-items');
  const step=[244,352,479,607,734,862];
  legendLabels.forEach((n,i)=>{
    const c=document.createElementNS(NS,'circle');
    c.setAttribute('cx',step[i]);c.setAttribute('cy',962);c.setAttribute('r',7.5);
    c.setAttribute('fill',legendFills[i]);c.setAttribute('stroke','#111');c.setAttribute('stroke-width',1.5);
    
    
    g.appendChild(c);
    const t=document.createElementNS(NS,'text');
    t.setAttribute('x',step[i]+32);t.setAttribute('y',969.5);t.setAttribute('font-size',21);
    t.textContent=n;
    
    
    g.appendChild(t);
  });
})();

// Panel B
drawPoints('points-s',s=>xS(s[1]),s=>yS(s[2]),fillsB,5,()=>1.2);
drawPoints('points-e',s=>xB(s[0]),s=>yE(s[1]),fillsB,5,()=>1.2);
drawPoints('points-g',s=>xB(s[0]),s=>yG(s[2]),fillsB,5,()=>1.2);

(function(){
  let a=$('axes-s');
  line(a,126.5,1083,126.5,2021,2);
  line(a,125.5,2021,562,2021,2);
  scatterXTicks.forEach(t=>{line(a,xS(t),2021,xS(t),2027,2);label(a,xS(t),2045,String(t),18,'middle');});
  scatterYTicks.forEach(t=>{line(a,120,yS(t),126.5,yS(t),2);label(a,115,yS(t)+6.5,String(t),18,'end');});
  a=$('axes-e');
  line(a,649,1088,649,1504,2);
  line(a,648,1504,1061,1504,2);
  xTicksKb.forEach(k=>line(a,xB(k),1504,xB(k),1510,2));
  eqtlYTicks.forEach(t=>{line(a,643,yE(t),649,yE(t),2);label(a,638,yE(t)+6.5,String(t),18,'end');});
  a=$('axes-g');
  line(a,649,1540,649,2024,2);
  line(a,648,2024,1061,2024,2);
  xTicksKb.forEach((k,i)=>{line(a,xB(k),2024,xB(k),2030,2);label(a,xB(k),2047,xTickLabelsMb[i],18,'middle');});
  gwasYTicks.forEach(t=>{line(a,643,yG(t),649,yG(t),2);label(a,638,yG(t)+6.5,String(t),18,'end');});
  const c=$('colorbar');
  colorbarFills.forEach((f,i)=>{
    const r=document.createElementNS(NS,'rect');
    const top=yCb(colorbarBreaks[i+1]),bot=yCb(colorbarBreaks[i]);
    r.setAttribute('x',469);r.setAttribute('y',top);r.setAttribute('width',27);r.setAttribute('height',bot-top);
    r.setAttribute('fill',f);r.setAttribute('stroke','#111');r.setAttribute('stroke-width',1.5);
    
    
    c.appendChild(r);
  });
  colorbarTicks.forEach(t=>label(c,504,yCb(t)+7,t.toFixed(1),20,'start'));
})();
</script>
</body>
</html>
